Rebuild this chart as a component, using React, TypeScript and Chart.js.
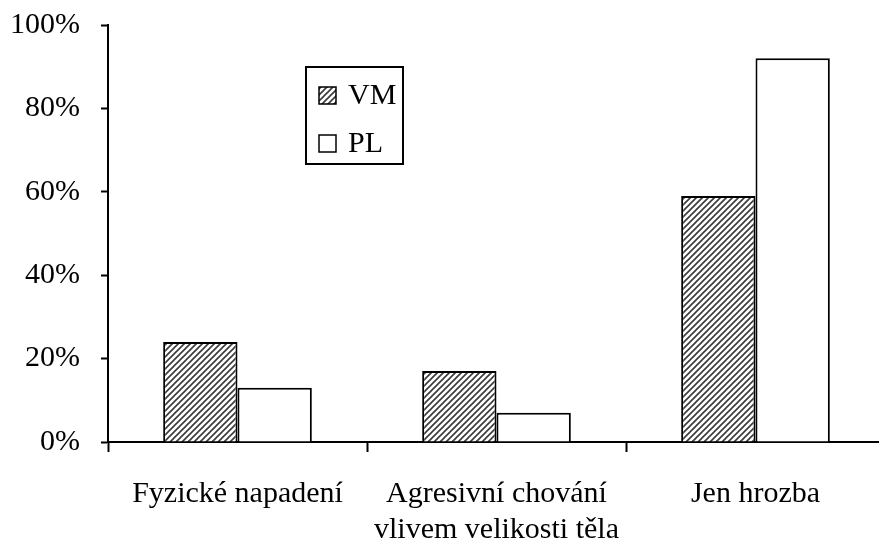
import React, { useEffect, useRef } from "react";
import { Chart, registerables } from "chart.js";

Chart.register(...registerables);

const categories: (string | string[])[] = [
  "Fyzické napadení",
  ["Agresivní chování", "vlivem velikosti těla"],
  "Jen hrozba",
];
const seriesNames = ["VM", "PL"];
const vmValues = [24, 17, 59];
const plValues = [13, 7, 92];
const yTicks = [0, 20, 40, 60, 80, 100];

const FONT = '"Liberation Serif", "Times New Roman", serif';

function makeHatch(): CanvasPattern | string {
  const c = document.createElement("canvas");
  c.width = 6;
  c.height = 6;
  const g = c.getContext("2d");
  if (!g) return "#888";
  g.fillStyle = "#ffffff";
  g.fillRect(0, 0, 6, 6);
  g.strokeStyle = "#3a3a3a";
  g.lineWidth = 1.6;
  g.beginPath();
  g.moveTo(-1, 7);
  g.lineTo(7, -1);
  g.moveTo(-4, 4);
  g.lineTo(4, -4);
  g.moveTo(2, 10);
  g.lineTo(10, 2);
  g.stroke();
  const p = g.createPattern(c, "repeat");
  return p || "#888";
}

const legendPlugin = {
  id: "boxLegend",
  afterDraw(chart: any) {
    const ctx = chart.ctx;
    const a = chart.chartArea;
    const x0 = a.left + 198;
    const y0 = a.top + 42;
    const w = 97;
    const h = 97;
    ctx.save();
    ctx.fillStyle = "#fff";
    ctx.fillRect(x0, y0, w, h);
    ctx.strokeStyle = "#000";
    ctx.lineWidth = 2;
    ctx.strokeRect(x0, y0, w, h);
    ctx.font = `30px ${FONT}`;
    ctx.textBaseline = "middle";
    ctx.textAlign = "left";
    chart.data.datasets.forEach((ds: any, i: number) => {
      const cy = y0 + 28 + i * 48;
      const sx = x0 + 13;
      ctx.fillStyle = ds.backgroundColor;
      ctx.fillRect(sx, cy - 8, 17, 17);
      ctx.lineWidth = 1.5;
      ctx.strokeStyle = "#000";
      ctx.strokeRect(sx, cy - 8, 17, 17);
      ctx.fillStyle = "#000";
      ctx.fillText(ds.label, x0 + 42, cy + 1);
    });
    ctx.restore();
  },
};

export default function App() {
  const ref = useRef<HTMLCanvasElement | null>(null);
  useEffect(() => {
    if (!ref.current) return;
    const hatch = makeHatch();
    const chart = new Chart(ref.current, {
      type: "bar",
      data: {
        labels: categories,
        datasets: [
          {
            label: seriesNames[0],
            data: vmValues,
            backgroundColor: hatch as any,
            borderColor: "#000",
            borderWidth: 2,
          },
          {
            label: seriesNames[1],
            data: plValues,
            backgroundColor: "#ffffff",
            borderColor: "#000",
            borderWidth: 2,
          },
        ],
      },
      plugins: [legendPlugin],
      options: {
        animation: false,
        responsive: false,
        maintainAspectRatio: false,
        devicePixelRatio: 1,
        layout: { padding: { top: 25, right: 5, left: 0, bottom: 0 } },
        plugins: {
          legend: { display: false },
          tooltip: { enabled: false },
        },
        datasets: {
          bar: { categoryPercentage: 0.574, barPercentage: 1 },
        },
        scales: {
          x: {
            grid: {
              offset: true,
              drawOnChartArea: false,
              tickLength: 10,
              tickColor: "#000",
              tickWidth: 2,
            },
            border: { display: true, color: "#000", width: 2 },
            ticks: {
              color: "#000",
              font: { family: FONT, size: 30, lineHeight: 1.2 },
              padding: 24,
              maxRotation: 0,
              autoSkip: false,
            },
            afterFit(scale: any) {
              scale.height = 548 - 442;
              scale.paddingLeft = 0;
              scale.paddingRight = 0;
            },
          },
          y: {
            min: 0,
            max: 100,
            afterBuildTicks(scale: any) {
              scale.ticks = yTicks.map((v) => ({ value: v }));
            },
            grid: {
              drawOnChartArea: false,
              tickLength: 7,
              tickColor: "#000",
              tickWidth: 2,
            },
            border: { display: true, color: "#000", width: 2 },
            ticks: {
              color: "#000",
              font: { family: FONT, size: 30 },
              padding: 21,
              callback: (v: any) => `${v}%`,
            },
            afterFit(scale: any) {
              scale.width = 108;
              scale.paddingTop = 0;
              scale.paddingBottom = 0;
            },
          },
        },
      },
    });
    return () => chart.destroy();
  }, []);
  return (
    <div
      style={{
        position: "fixed",
        left: 0,
        top: 0,
        width: 879,
        height: 548,
        overflow: "hidden",
        background: "#fff",
      }}
    >
      <canvas ref={ref} width={890} height={548} style={{ display: "block" }} />
    </div>
  );
}
